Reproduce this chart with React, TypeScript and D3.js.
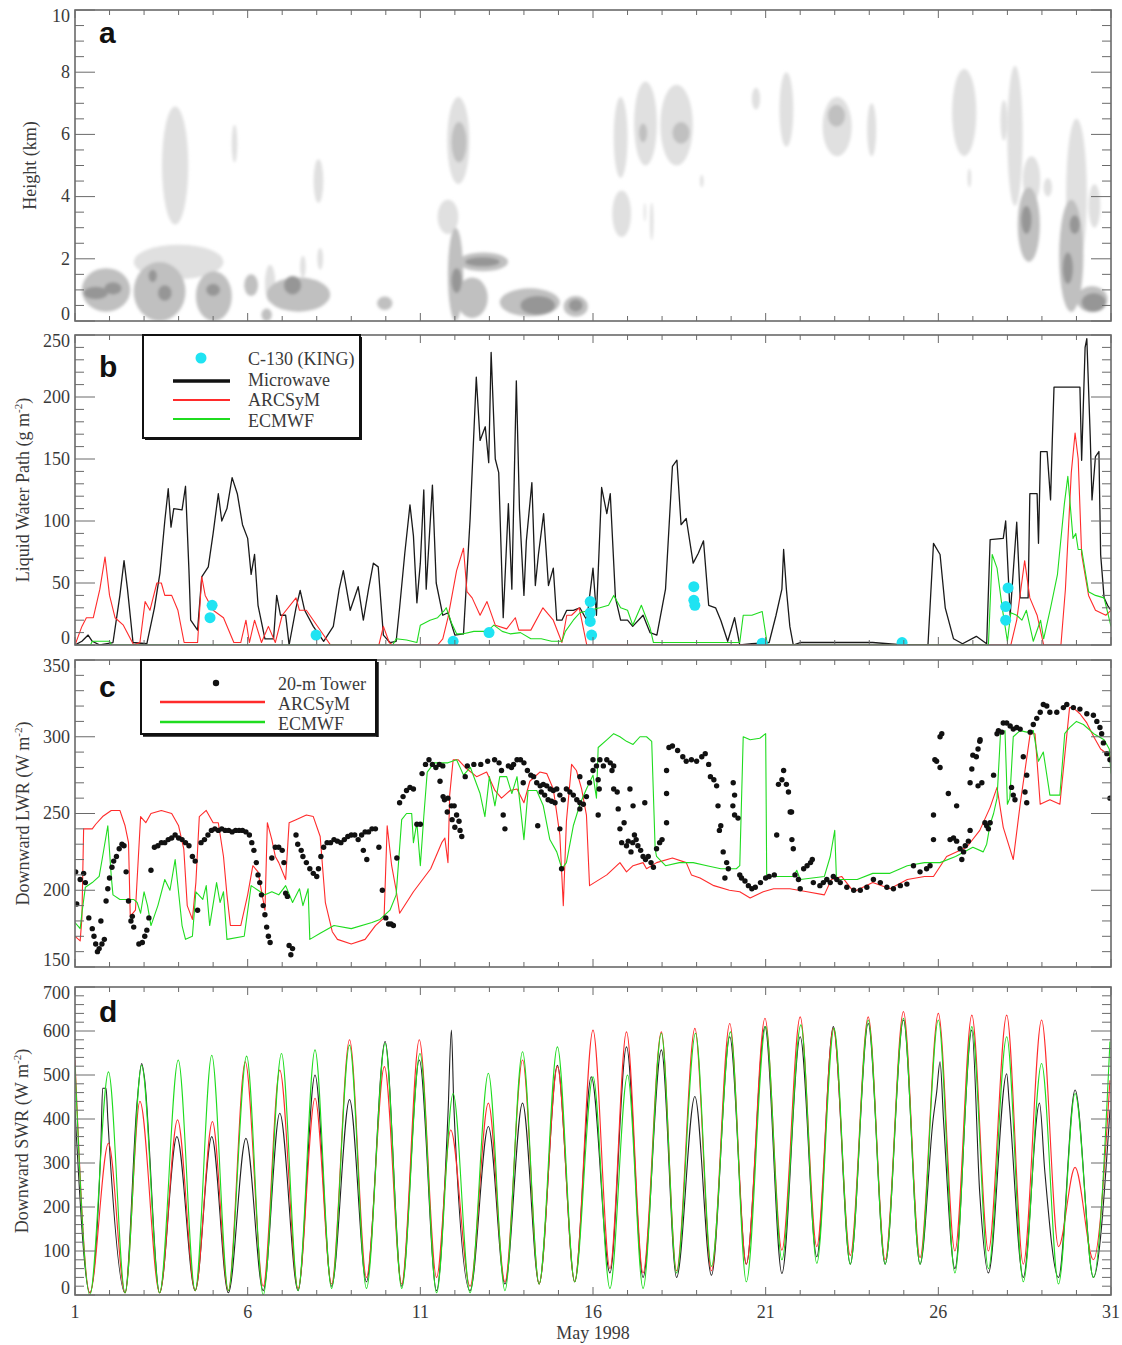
import React, { useRef, useEffect } from "react";
import * as d3 from "d3";

// ---------- panel a: cloud cells [day, km, half width (days), half height (km), level]
const cloudCells = [
  [3.9, 5.0, 0.38, 1.9, 1], [5.62, 5.7, 0.08, 0.6, 1], [8.05, 4.5, 0.14, 0.7, 1],
  [4.0, 1.9, 1.3, 0.55, 1], [6.65, 1.2, 0.15, 0.6, 1], [7.6, 1.75, 0.08, 0.35, 1],
  [8.1, 2.0, 0.08, 0.35, 1], [12.1, 5.8, 0.32, 1.4, 1], [11.8, 3.35, 0.3, 0.55, 1],
  [16.8, 5.9, 0.2, 1.3, 1], [16.83, 3.45, 0.27, 0.75, 1], [17.52, 6.35, 0.33, 1.35, 1],
  [18.42, 6.3, 0.47, 1.3, 1], [17.5, 3.5, 0.03, 0.3, 1], [17.7, 3.2, 0.05, 0.6, 1],
  [19.15, 4.5, 0.05, 0.2, 1], [20.72, 7.15, 0.12, 0.35, 1], [21.6, 6.8, 0.2, 1.2, 1],
  [23.07, 6.25, 0.42, 0.95, 1], [24.07, 6.15, 0.13, 0.85, 1], [26.75, 6.7, 0.35, 1.4, 1],
  [26.9, 4.6, 0.05, 0.3, 1], [27.9, 6.45, 0.1, 0.65, 1], [28.22, 5.95, 0.22, 2.25, 1],
  [28.7, 4.55, 0.25, 0.75, 1], [29.17, 4.3, 0.12, 0.3, 1], [30.0, 4.1, 0.3, 2.4, 1],
  [30.52, 3.7, 0.17, 0.7, 1],
  [1.9, 1.0, 0.7, 0.7, 2], [3.45, 0.95, 0.75, 0.95, 2], [5.02, 0.8, 0.52, 0.8, 2],
  [6.1, 1.15, 0.2, 0.35, 2], [6.55, 0.2, 0.15, 0.2, 2], [7.47, 0.85, 0.92, 0.55, 2],
  [9.97, 0.57, 0.22, 0.22, 2], [12.02, 1.5, 0.22, 1.5, 2], [12.82, 1.9, 0.72, 0.3, 2],
  [12.5, 0.75, 0.45, 0.65, 2], [14.17, 0.6, 0.87, 0.45, 2], [15.5, 0.47, 0.35, 0.33, 2],
  [28.62, 3.1, 0.32, 1.2, 2], [29.85, 2.1, 0.35, 1.8, 2], [30.45, 0.7, 0.45, 0.42, 2],
  [12.12, 5.75, 0.22, 0.65, 2], [17.45, 6.05, 0.12, 0.3, 2], [18.55, 6.05, 0.25, 0.35, 2],
  [23.05, 6.6, 0.25, 0.35, 2],
  [1.6, 0.9, 0.35, 0.2, 3], [2.1, 1.05, 0.25, 0.2, 3], [3.25, 1.45, 0.12, 0.2, 3],
  [3.6, 0.9, 0.2, 0.25, 3], [5.0, 1.0, 0.2, 0.2, 3], [7.3, 1.15, 0.25, 0.3, 3],
  [12.05, 1.3, 0.15, 0.4, 3], [12.8, 1.9, 0.5, 0.15, 3], [14.4, 0.5, 0.5, 0.3, 3],
  [15.5, 0.5, 0.2, 0.2, 3], [28.55, 3.25, 0.15, 0.45, 3], [29.95, 3.1, 0.15, 0.3, 3],
  [29.75, 1.7, 0.15, 0.5, 3], [30.5, 0.6, 0.35, 0.3, 3],
];

// ---------- panel b: liquid water path [day, g m-2]
const lwpMicrowave = [
  [1.0,0],[1.2,3],[1.38,8],[1.5,3],[1.72,0],[2.1,2],[2.3,40],[2.42,68],[2.52,45],[2.68,2],[3.08,1],[3.3,30],[3.46,58],[3.6,100],[3.7,126],[3.78,95],[3.86,110],[4.1,109],[4.2,128],[4.3,60],[4.35,20],[4.55,12],[4.67,55],[4.86,63],[5.0,90],[5.15,122],[5.25,100],[5.4,110],[5.55,135],[5.7,122],[5.85,97],[6.0,86],[6.1,57],[6.2,73],[6.3,32],[6.5,5],[6.75,5],[6.84,40],[6.95,24],[7.1,24],[7.2,0],[7.4,30],[7.52,44],[7.65,28],[7.9,15],[8.2,3],[8.48,15],[8.65,45],[8.77,60],[8.97,28],[9.2,47],[9.35,20],[9.5,45],[9.64,66],[9.78,63],[9.93,8],[10.12,2],[10.3,3],[10.4,30],[10.55,74],[10.7,113],[10.8,88],[10.9,34],[11.0,66],[11.1,125],[11.17,45],[11.35,129],[11.46,50],[11.65,24],[11.8,26],[12.0,8],[12.25,9],[12.44,101],[12.62,216],[12.73,165],[12.88,176],[12.98,147],[13.05,236],[13.17,150],[13.27,139],[13.4,22],[13.55,114],[13.65,45],[13.78,213],[13.87,110],[14.0,40],[14.07,84],[14.23,131],[14.33,48],[14.42,73],[14.57,106],[14.71,48],[14.85,62],[14.95,20],[15.1,20],[15.24,28],[15.43,28],[15.62,30],[15.82,20],[16.0,62],[16.1,24],[16.25,127],[16.4,106],[16.5,122],[16.65,38],[16.8,20],[17.0,20],[17.15,15],[17.45,24],[17.65,10],[17.85,8],[18.1,45],[18.3,144],[18.43,149],[18.55,97],[18.7,102],[18.9,66],[19.05,74],[19.2,84],[19.35,32],[19.55,30],[19.7,20],[19.9,3],[20.1,22],[20.25,0],[20.6,1],[21.1,2],[21.3,24],[21.47,45],[21.52,77],[21.6,45],[21.7,15],[21.8,0],[22.0,2],[23.0,2],[24.1,2],[25.0,0],[25.7,0],[25.86,82],[26.05,73],[26.2,30],[26.44,5],[26.7,1],[27.1,7],[27.4,1],[27.5,85],[27.88,86],[27.95,100],[28.08,24],[28.27,99],[28.37,38],[28.6,38],[28.65,122],[28.86,122],[28.9,82],[28.96,156],[29.15,156],[29.25,117],[29.3,165],[29.35,208],[30.1,208],[30.15,149],[30.25,240],[30.3,247],[30.4,167],[30.45,117],[30.55,152],[30.65,156],[30.7,73],[30.8,38],[30.9,32],[31.0,28],
];
const lwpArcsym = [
  [1.0,0],[1.2,15],[1.33,22],[1.53,22],[1.72,45],[1.87,71],[2.0,40],[2.16,22],[2.4,16],[2.7,0],[2.88,2],[3.03,35],[3.17,28],[3.37,50],[3.5,50],[3.6,40],[3.8,40],[3.98,28],[4.16,2],[4.55,2],[4.67,55],[4.77,40],[5.0,28],[5.3,22],[5.6,2],[5.8,2],[5.95,20],[6.05,2],[6.2,20],[6.4,2],[6.6,15],[6.8,2],[7.0,24],[7.4,38],[7.5,28],[7.7,28],[7.9,20],[8.4,0],[9.8,0],[9.93,15],[10.1,2],[10.2,0],[11.5,0],[11.65,5],[11.8,22],[12.05,60],[12.25,78],[12.35,43],[12.5,38],[12.73,24],[12.93,35],[13.17,16],[13.5,13],[13.75,22],[13.85,12],[14.2,12],[14.55,30],[14.85,20],[15.1,2],[15.24,24],[15.38,24],[15.6,30],[15.82,0],[28.1,0],[28.27,20],[28.5,68],[28.65,38],[28.86,24],[29.05,0],[29.55,0],[29.68,45],[29.85,139],[29.96,171],[30.05,150],[30.15,73],[30.35,40],[30.55,28],[30.85,24],[31.0,28],
];
const lwpEcmwf = [
  [1.0,0],[1.45,0],[1.5,3],[2.0,3],[2.05,0],[10.2,0],[10.3,5],[10.6,4],[10.9,2],[11.0,16],[11.28,20],[11.5,22],[11.7,28],[11.75,30],[11.9,18],[12.05,9],[12.25,9],[12.55,11],[12.93,11],[13.13,16],[13.37,11],[13.6,9],[13.9,10],[14.2,5],[14.5,5],[14.8,3],[15.1,3],[15.2,11],[15.43,20],[15.62,26],[15.9,28],[16.2,30],[16.45,32],[16.6,40],[16.8,30],[17.0,28],[17.15,16],[17.4,32],[17.65,14],[17.75,2],[20.25,2],[20.35,24],[20.6,24],[20.9,27],[21.05,0],[27.45,0],[27.56,73],[27.7,62],[27.85,30],[28.0,3],[28.1,26],[28.27,24],[28.42,20],[28.55,28],[28.75,3],[28.96,20],[29.05,5],[29.25,30],[29.45,57],[29.65,114],[29.75,136],[29.9,86],[29.98,90],[30.05,77],[30.15,77],[30.35,43],[30.55,40],[30.8,38],[31.0,15],
];
const c130King = [
  [4.97,32],[4.91,22],[7.98,8],[11.95,3],[12.99,10],[15.92,35],[15.92,26],[15.92,19],[15.96,8],
  [18.92,47],[18.92,36],[18.95,32],[20.9,1.5],[24.95,2],[28.02,46],[27.95,31],[27.95,20],
];

// ---------- panel c: downward longwave [day, W m-2]
const lwrArcsym = [
  [1.0,170],[1.15,167],[1.2,182],[1.25,240],[1.5,240],[1.6,243],[1.8,248],[2.05,252],[2.3,252],[2.45,242],[2.55,231],[2.6,183],[2.75,187],[2.9,248],[3.05,244],[3.2,250],[3.5,252],[3.8,250],[4.0,242],[4.15,227],[4.25,190],[4.4,181],[4.5,205],[4.6,248],[4.8,252],[5.0,244],[5.15,244],[5.3,222],[5.4,197],[5.5,177],[5.8,177],[6.0,197],[6.15,216],[6.3,212],[6.5,187],[6.57,244],[6.7,233],[6.8,222],[6.9,218],[7.1,207],[7.2,244],[7.4,246],[7.7,249],[7.9,248],[8.1,235],[8.25,192],[8.45,173],[8.6,168],[9.0,165],[9.4,168],[9.7,177],[9.95,182],[10.04,242],[10.17,216],[10.3,200],[10.4,185],[10.8,199],[11.3,214],[11.62,231],[11.71,234],[11.8,218],[11.85,262],[11.95,285],[12.1,285],[12.3,280],[12.63,274],[12.92,277],[13.16,265],[13.35,260],[13.6,265],[13.8,266],[14.0,257],[14.17,271],[14.46,277],[14.66,276],[14.85,266],[15.04,236],[15.14,190],[15.23,245],[15.38,282],[15.52,278],[15.67,266],[15.81,249],[15.9,203],[16.4,210],[16.78,218],[16.97,212],[17.16,216],[17.45,218],[17.55,214],[17.84,218],[18.3,221],[18.7,218],[18.85,210],[19.1,208],[19.5,203],[19.95,200],[20.25,199],[20.55,195],[20.93,199],[21.23,201],[21.7,201],[22.2,199],[22.7,197],[22.9,207],[23.2,209],[23.55,199],[24.1,205],[24.6,201],[25.1,207],[25.6,209],[25.86,209],[26.24,222],[26.82,228],[27.2,239],[27.5,254],[27.7,267],[27.88,241],[28.17,220],[28.37,256],[28.66,302],[28.8,302],[28.95,256],[29.04,257],[29.23,259],[29.52,256],[29.8,319],[29.9,319],[30.1,315],[30.3,309],[30.5,300],[30.7,292],[31.0,287],
];
const lwrEcmwf = [
  [1.0,179],[1.15,175],[1.2,185],[1.3,202],[1.5,205],[1.7,209],[1.8,222],[1.95,242],[2.05,209],[2.1,197],[2.3,194],[2.7,194],[2.8,192],[2.9,185],[3.0,199],[3.1,190],[3.2,177],[3.4,190],[3.6,207],[3.75,200],[3.9,220],[4.1,177],[4.2,168],[4.4,170],[4.5,199],[4.7,194],[4.8,203],[4.9,177],[5.1,205],[5.2,192],[5.3,199],[5.4,168],[5.9,170],[6.1,203],[6.3,200],[6.5,197],[6.7,199],[6.9,197],[7.1,203],[7.3,192],[7.5,201],[7.6,190],[7.75,201],[7.8,168],[8.1,172],[8.5,177],[9.0,175],[9.6,179],[9.83,181],[10.12,187],[10.3,197],[10.46,246],[10.6,250],[10.75,250],[10.8,231],[10.9,244],[11.0,216],[11.1,248],[11.2,277],[11.4,283],[11.8,283],[12.05,285],[12.25,275],[12.45,280],[12.73,263],[12.87,248],[13.0,274],[13.16,255],[13.3,274],[13.5,274],[13.65,263],[13.8,274],[14.0,233],[14.12,265],[14.37,265],[14.56,255],[14.75,233],[14.95,225],[15.1,214],[15.23,218],[15.43,242],[15.62,256],[15.81,266],[16.0,275],[16.1,260],[16.15,293],[16.4,298],[16.6,302],[16.78,300],[16.97,297],[17.16,295],[17.36,300],[17.55,300],[17.7,297],[17.8,227],[17.84,222],[18.1,216],[18.5,218],[18.9,218],[19.3,216],[19.7,214],[20.15,214],[20.25,216],[20.35,300],[20.55,298],[20.83,299],[21.0,302],[21.03,209],[21.8,209],[21.9,213],[22.0,207],[22.7,209],[22.87,222],[23.0,239],[23.05,207],[23.65,207],[24.1,211],[24.6,211],[25.1,216],[25.6,218],[26.05,218],[26.5,222],[27.0,228],[27.3,225],[27.4,230],[27.5,243],[27.6,250],[27.7,260],[27.8,302],[27.93,304],[28.0,256],[28.07,260],[28.17,300],[28.37,304],[28.56,303],[28.75,304],[28.9,284],[29.04,290],[29.23,262],[29.52,262],[29.66,302],[29.8,306],[30.0,310],[30.2,308],[30.5,302],[30.8,298],[30.95,292],[31.0,276],
];
const lwrTower = [
  [1.02,212],[1.05,191],[1.15,207],[1.25,211],[1.3,205],[1.4,182],[1.5,175],[1.55,170],[1.6,165],[1.65,160],[1.7,162],[1.78,165],[1.85,168],[1.75,180],[1.9,193],[1.95,201],[2.0,208],[2.07,215],[2.12,219],[2.2,222],[2.28,227],[2.36,230],[2.42,229],[2.48,212],[2.55,193],[2.62,180],[2.66,183],[2.7,176],[2.85,165],[2.95,166],[3.02,170],[3.08,174],[3.14,182],[3.2,213],[3.3,228],[3.4,229],[3.5,231],[3.6,231],[3.7,233],[3.8,234],[3.9,236],[4.0,234],[4.1,233],[4.2,231],[4.3,229],[4.4,222],[4.48,219],[4.55,187],[4.65,231],[4.75,233],[4.85,236],[4.95,239],[5.05,240],[5.15,239],[5.25,240],[5.35,239],[5.45,239],[5.55,238],[5.65,239],[5.75,239],[5.85,239],[5.95,238],[6.05,236],[6.12,231],[6.18,226],[6.25,218],[6.3,210],[6.35,205],[6.4,197],[6.45,190],[6.5,184],[6.55,176],[6.6,170],[6.65,166],[6.7,221],[6.8,228],[6.9,228],[7.0,226],[7.05,218],[7.1,198],[7.15,196],[7.2,164],[7.25,158],[7.3,162],[7.4,236],[7.45,230],[7.55,226],[7.6,222],[7.7,218],[7.8,214],[7.9,211],[8.0,209],[8.05,214],[8.12,222],[8.2,228],[8.3,231],[8.4,231],[8.5,233],[8.6,232],[8.7,231],[8.8,233],[8.9,235],[9.0,236],[9.1,236],[9.2,233],[9.3,236],[9.4,238],[9.5,238],[9.6,240],[9.7,240],[9.35,226],[9.45,220],[9.8,228],[9.9,200],[10.0,182],[10.08,178],[10.15,178],[10.22,177],[10.32,221],[10.4,257],[10.5,261],[10.6,265],[10.7,267],[10.8,266],[10.9,243],[11.0,243],[11.05,276],[11.15,282],[11.25,285],[11.35,282],[11.45,280],[11.55,282],[11.65,281],[11.57,271],[11.66,261],[11.7,259],[11.8,260],[11.9,255],[11.98,255],[12.05,249],[12.12,245],[12.2,235],[11.78,251],[11.92,246],[12.0,241],[12.15,239],[12.3,274],[12.36,281],[12.55,282],[12.75,282],[12.95,284],[13.15,285],[13.28,283],[13.35,278],[13.4,249],[13.45,240],[13.55,281],[13.64,280],[13.7,282],[13.8,285],[13.9,285],[14.0,283],[14.1,278],[14.2,275],[14.28,274],[13.98,270],[14.37,270],[14.47,268],[14.56,269],[14.66,268],[14.76,266],[14.85,265],[14.95,266],[14.4,242],[14.5,264],[14.6,262],[14.7,259],[14.8,258],[14.9,257],[15.04,262],[15.14,259],[15.23,266],[15.33,264],[15.43,262],[15.53,259],[15.62,257],[15.04,240],[15.09,214],[15.62,253],[15.72,256],[15.81,261],[15.9,270],[16.0,278],[16.1,281],[16.2,285],[16.3,281],[16.4,285],[16.5,283],[16.6,281],[16.55,278],[16.0,285],[15.62,274],[16.15,272],[16.18,266],[16.15,249],[16.6,266],[16.7,264],[16.73,253],[16.78,240],[16.83,231],[16.9,244],[16.97,229],[17.02,232],[17.1,225],[17.15,231],[17.2,236],[17.25,233],[17.3,229],[17.38,226],[17.45,222],[17.52,220],[17.6,222],[17.68,218],[17.75,215],[17.07,266],[17.16,255],[17.5,257],[17.84,227],[17.93,231],[18.0,233],[18.13,278],[18.13,263],[18.13,244],[18.2,293],[18.3,294],[18.45,291],[18.6,287],[18.7,284],[18.85,285],[19.0,284],[19.15,287],[19.25,289],[19.35,282],[19.4,274],[19.5,272],[19.58,268],[19.62,255],[19.66,239],[19.7,242],[19.77,225],[19.87,218],[19.92,214],[19.82,208],[20.06,270],[20.1,262],[20.1,249],[20.2,247],[20.05,255],[20.25,210],[20.3,208],[20.4,206],[20.5,203],[20.6,201],[20.7,202],[20.85,205],[21.0,208],[21.1,209],[21.25,210],[21.32,236],[21.37,269],[21.47,272],[21.52,278],[21.6,269],[21.66,264],[21.71,251],[21.75,251],[21.76,233],[21.8,227],[21.85,210],[21.95,207],[22.0,201],[22.1,214],[22.2,216],[22.3,218],[22.35,220],[22.38,205],[22.57,203],[22.67,205],[22.77,207],[22.87,205],[22.96,209],[23.06,207],[23.16,205],[23.35,202],[23.55,200],[23.74,200],[23.93,202],[24.12,207],[24.32,205],[24.51,202],[24.7,201],[24.9,203],[25.09,204],[25.28,216],[25.47,212],[25.66,214],[25.76,216],[25.86,249],[25.86,233],[25.9,285],[25.95,284],[26.05,280],[26.1,302],[26.05,300],[26.29,263],[26.34,233],[26.44,234],[26.53,232],[26.63,227],[26.68,220],[26.73,225],[26.78,229],[26.87,232],[26.92,239],[26.53,255],[26.92,270],[26.97,279],[27.0,288],[27.1,287],[27.15,292],[27.2,297],[27.15,268],[27.21,298],[27.26,270],[27.35,244],[27.4,242],[27.45,240],[27.5,244],[27.6,275],[27.7,302],[27.74,304],[27.84,303],[27.88,309],[27.98,309],[28.08,307],[28.17,305],[28.27,306],[28.37,305],[28.12,267],[28.17,262],[28.22,259],[28.46,287],[28.56,275],[28.51,264],[28.56,257],[28.66,303],[28.75,308],[28.85,312],[28.95,316],[29.04,321],[29.14,320],[29.23,316],[29.43,316],[29.62,319],[29.72,321],[29.91,319],[30.1,318],[30.3,315],[30.49,314],[30.59,310],[30.68,306],[30.73,302],[30.78,296],[30.88,289],[30.97,285],[30.97,260],
];

// ---------- panel d: downward shortwave [day, W m-2]
const swrTower = [
  [1.0,420],[1.43,5],[1.75,340],[1.8,470],[1.9,470],[1.95,400],[2.45,5],[2.8,440],[2.93,526],[3.0,500],[3.45,5],[3.95,360],[4.48,10],[4.96,360],[5.44,5],[5.95,356],[6.45,10],[6.93,413],[7.46,10],[7.95,500],[8.43,20],[8.95,444],[9.44,30],[9.98,576],[10.46,20],[10.97,534],[11.47,10],[11.8,410],[11.9,602],[11.97,430],[12.44,10],[12.97,383],[13.45,25],[13.96,436],[14.44,25],[14.97,522],[15.47,30],[15.95,496],[16.49,50],[16.97,564],[17.45,40],[17.98,557],[18.42,40],[18.95,451],[19.43,45],[19.96,587],[20.44,70],[20.98,610],[21.47,49],[22.0,587],[22.48,87],[22.96,610],[23.45,70],[23.97,617],[24.46,70],[24.99,625],[25.47,70],[25.85,400],[25.95,460],[26.05,530],[26.15,398],[26.48,60],[26.97,602],[27.2,230],[27.45,50],[27.98,503],[28.05,440],[28.46,40],[28.93,436],[29.08,284],[29.48,40],[29.96,466],[30.49,40],[30.97,420],
];
const swrArcsym = [
  [1.0,534],[1.43,5],[1.97,345],[2.45,5],[2.88,440],[3.45,5],[3.97,398],[4.48,10],[4.98,394],[5.44,10],[5.93,530],[6.45,20],[6.93,511],[7.46,15],[7.95,447],[8.43,25],[8.95,580],[9.44,40],[9.96,519],[10.46,25],[10.97,580],[11.47,40],[11.88,375],[12.44,20],[12.97,436],[13.45,30],[13.96,534],[14.44,25],[14.97,519],[15.47,30],[16.0,602],[16.49,60],[16.97,598],[17.45,50],[17.98,598],[18.42,55],[18.95,606],[19.43,55],[19.96,617],[20.44,70],[20.98,629],[21.47,102],[22.0,632],[22.48,110],[22.96,606],[23.45,90],[23.97,632],[24.46,80],[24.99,644],[25.47,85],[26.0,640],[26.48,100],[26.97,636],[27.45,100],[27.98,636],[28.46,70],[28.99,625],[29.48,110],[29.96,290],[30.49,80],[30.97,488],
];
const swrEcmwf = [
  [1.0,521],[1.43,0],[1.97,507],[2.45,5],[2.93,522],[3.45,5],[3.99,534],[4.48,10],[4.96,545],[5.44,10],[5.97,543],[6.45,0],[6.98,549],[7.46,10],[7.95,557],[8.43,15],[8.95,568],[9.44,15],[9.98,572],[10.46,15],[10.99,549],[11.47,5],[11.95,458],[12.44,5],[12.97,504],[13.45,10],[13.96,553],[14.44,25],[14.97,564],[15.47,30],[16.0,496],[16.49,15],[17.0,500],[17.45,15],[17.98,595],[18.42,50],[18.97,595],[19.43,65],[19.98,598],[20.44,30],[21.0,610],[21.47,80],[22.02,614],[22.48,72],[22.98,606],[23.45,70],[23.97,625],[24.46,70],[24.99,629],[25.47,70],[26.0,625],[26.48,50],[26.97,610],[27.45,60],[27.98,587],[28.46,30],[28.99,526],[29.48,25],[29.96,458],[30.49,40],[30.97,576],
];

// ---------- axes
const dayTicks = [1, 6, 11, 16, 21, 26, 31];
const heightTicks = [0, 2, 4, 6, 8, 10];
const lwpTicks = [0, 50, 100, 150, 200, 250];
const lwrTicks = [150, 200, 250, 300, 350];
const swrTicks = [0, 100, 200, 300, 400, 500, 600, 700];

const App = () => {
  const svgRef = useRef<SVGSVGElement | null>(null);

  useEffect(() => {
    const svg = d3.select(svgRef.current);
    svg.selectAll("*").remove();

    const left = 75;
    const right = 1111;
    const serif = "'Liberation Serif', 'Times New Roman', serif";
    const sans = "'Liberation Sans', Arial, sans-serif";
    const frameColor = "#6a6a6a";
    const textColor = "#3a3a3a";
    const red = "#ff2b2b";
    const green = "#1fdc1f";
    const cyan = "#1fe3f2";

    const x = d3.scaleLinear().domain([1, 31]).range([left, right]);

    const panels = [
      { id: "a", top: 10, bottom: 321, domain: [0, 10], ticks: heightTicks, minor: 0.5, letterY: 43, title: "Height (km)", sup: false, titleX: 36 },
      { id: "b", top: 335, bottom: 645, domain: [0, 250], ticks: lwpTicks, minor: 10, letterY: 377, title: "Liquid Water Path (g m", sup: true, titleX: 29 },
      { id: "c", top: 660, bottom: 967, domain: [150, 350], ticks: lwrTicks, minor: 10, letterY: 697, title: "Downward LWR (W m", sup: true, titleX: 29 },
      { id: "d", top: 987, bottom: 1295, domain: [0, 700], ticks: swrTicks, minor: 20, letterY: 1022, title: "Downward SWR (W m", sup: true, titleX: 28 },
    ];

    const defs = svg.append("defs");
    defs
      .append("filter")
      .attr("id", "soft")
      .attr("x", "-10%")
      .attr("y", "-10%")
      .attr("width", "120%")
      .attr("height", "120%")
      .append("feGaussianBlur")
      .attr("stdDeviation", 1.8);

    const ys: Record<string, d3.ScaleLinear<number, number>> = {};
    panels.forEach((p) => {
      ys[p.id] = d3.scaleLinear().domain(p.domain).range([p.bottom, p.top]);
      defs
        .append("clipPath")
        .attr("id", `clip-${p.id}`)
        .append("rect")
        .attr("x", left)
        .attr("y", p.top)
        .attr("width", right - left)
        .attr("height", p.bottom - p.top);
    });

    const plotLine = (g, data, y, color, width, curve = d3.curveLinear) => {
      const line = d3
        .line()
        .x((d) => x(d[0]))
        .y((d) => y(d[1]))
        .curve(curve);
      g.append("path")
        .attr("d", line(data))
        .attr("fill", "none")
        .attr("stroke", color)
        .attr("stroke-width", width)
        .attr("stroke-linejoin", "round");
    };

    // panel a - cloud contours
    const ya = ys.a;
    const ga = svg.append("g").attr("clip-path", "url(#clip-a)").attr("filter", "url(#soft)");
    const shades = { 1: "#e0e0e0", 2: "#c0c0c0", 3: "#969696" };
    [1, 2, 3].forEach((lvl) => {
      ga.selectAll(`ellipse.l${lvl}`)
        .data(cloudCells.filter((c) => c[4] === lvl))
        .join("ellipse")
        .attr("cx", (c) => x(c[0]))
        .attr("cy", (c) => ya(c[1]))
        .attr("rx", (c) => x(1 + c[2]) - x(1))
        .attr("ry", (c) => ya(0) - ya(c[3]))
        .attr("fill", shades[lvl]);
    });

    // panel b - liquid water path
    const yb = ys.b;
    const gb = svg.append("g").attr("clip-path", "url(#clip-b)");
    plotLine(gb, lwpMicrowave, yb, "#1a1a1a", 1.3);
    plotLine(gb, lwpArcsym, yb, red, 1.1);
    plotLine(gb, lwpEcmwf, yb, green, 1.1);
    gb.selectAll("circle")
      .data(c130King)
      .join("circle")
      .attr("cx", (d) => x(d[0]))
      .attr("cy", (d) => yb(d[1]))
      .attr("r", 5.5)
      .attr("fill", cyan);

    // panel c - longwave
    const yc = ys.c;
    const gc = svg.append("g").attr("clip-path", "url(#clip-c)");
    plotLine(gc, lwrArcsym, yc, red, 1.1);
    plotLine(gc, lwrEcmwf, yc, green, 1.1);
    gc.selectAll("circle")
      .data(lwrTower)
      .join("circle")
      .attr("cx", (d) => x(d[0]))
      .attr("cy", (d) => yc(d[1]))
      .attr("r", 2.7)
      .attr("fill", "#111");

    // panel d - shortwave
    const yd = ys.d;
    const gd = svg.append("g").attr("clip-path", "url(#clip-d)");
    plotLine(gd, swrTower, yd, "#222", 1.1, d3.curveMonotoneX);
    plotLine(gd, swrArcsym, yd, red, 1.1, d3.curveMonotoneX);
    plotLine(gd, swrEcmwf, yd, green, 1.1, d3.curveMonotoneX);

    // frames, ticks, labels
    panels.forEach((p) => {
      const y = ys[p.id];
      const g = svg.append("g").attr("stroke", frameColor).attr("stroke-width", 1);
      g.append("rect")
        .attr("x", left)
        .attr("y", p.top)
        .attr("width", right - left)
        .attr("height", p.bottom - p.top)
        .attr("fill", "none")
        .attr("stroke-width", 1.6);

      d3.range(1, 32).forEach((d) => {
        const len = (d - 1) % 5 === 0 ? 8 : 5;
        g.append("line").attr("x1", x(d)).attr("x2", x(d)).attr("y1", p.bottom).attr("y2", p.bottom - len);
        g.append("line").attr("x1", x(d)).attr("x2", x(d)).attr("y1", p.top).attr("y2", p.top + len);
      });

      const [lo, hi] = p.domain;
      const n = Math.round((hi - lo) / p.minor);
      d3.range(n + 1).forEach((i) => {
        const v = lo + i * p.minor;
        const major = p.ticks.some((t) => Math.abs(t - v) < 1e-6);
        const len = major ? 20 : 9;
        g.append("line").attr("x1", left).attr("x2", left + len).attr("y1", y(v)).attr("y2", y(v));
        g.append("line").attr("x1", right).attr("x2", right - len).attr("y1", y(v)).attr("y2", y(v));
      });

      // end labels sit just inside the frame so neighbouring panels don't collide
      svg.append("g")
        .selectAll("text")
        .data(p.ticks)
        .join("text")
        .attr("x", 70)
        .attr("y", (t) => Math.min(p.bottom - 7, Math.max(p.top + 6, y(t))))
        .attr("dy", "0.32em")
        .attr("text-anchor", "end")
        .attr("font-family", serif)
        .attr("font-size", 18)
        .attr("fill", textColor)
        .text((t) => t);

      const title = svg
        .append("text")
        .attr("transform", `translate(${p.titleX},${(p.top + p.bottom) / 2}) rotate(-90)`)
        .attr("text-anchor", "middle")
        .attr("font-family", serif)
        .attr("font-size", 18)
        .attr("fill", textColor);
      title.append("tspan").text(p.title);
      if (p.sup) {
        title.append("tspan").attr("dy", -7).attr("font-size", 11).text("-2");
        title.append("tspan").attr("dy", 7).text(")");
      }

      svg.append("text")
        .attr("x", 99)
        .attr("y", p.letterY)
        .attr("font-family", sans)
        .attr("font-weight", "bold")
        .attr("font-size", 30)
        .attr("fill", "#111")
        .text(p.id);
    });

    // x labels
    svg.append("g")
      .selectAll("text")
      .data(dayTicks)
      .join("text")
      .attr("x", (d) => x(d))
      .attr("y", 1318)
      .attr("text-anchor", "middle")
      .attr("font-family", serif)
      .attr("font-size", 18)
      .attr("fill", textColor)
      .text((d) => d);
    svg.append("text")
      .attr("x", x(16))
      .attr("y", 1339)
      .attr("text-anchor", "middle")
      .attr("font-family", serif)
      .attr("font-size", 18)
      .attr("fill", textColor)
      .text("May 1998");

    // legend b
    const legB = svg.append("g");
    legB.append("rect").attr("x", 143).attr("y", 335).attr("width", 217).attr("height", 103).attr("fill", "#fff").attr("stroke", "#111").attr("stroke-width", 2);
    legB.append("line").attr("x1", 145).attr("x2", 362).attr("y1", 439).attr("y2", 439).attr("stroke", "#111").attr("stroke-width", 2);
    legB.append("line").attr("x1", 361).attr("x2", 361).attr("y1", 337).attr("y2", 440).attr("stroke", "#111").attr("stroke-width", 2);
    legB.append("circle").attr("cx", 201).attr("cy", 358).attr("r", 5.5).attr("fill", cyan);
    [
      { y: 381, color: "#111", w: 3.5 },
      { y: 400, color: red, w: 2.2 },
      { y: 419, color: green, w: 2.2 },
    ].forEach((s) => legB.append("line").attr("x1", 173).attr("x2", 230).attr("y1", s.y).attr("y2", s.y).attr("stroke", s.color).attr("stroke-width", s.w));
    ["C-130 (KING)", "Microwave", "ARCSyM", "ECMWF"].forEach((t, i) =>
      legB.append("text").attr("x", 248).attr("y", 365 + i * 20.5).attr("font-family", serif).attr("font-size", 18).attr("fill", textColor).text(t)
    );

    // legend c
    const legC = svg.append("g");
    legC.append("rect").attr("x", 141).attr("y", 660).attr("width", 235).attr("height", 74).attr("fill", "#fff").attr("stroke", "#111").attr("stroke-width", 2);
    legC.append("line").attr("x1", 143).attr("x2", 378).attr("y1", 735.5).attr("y2", 735.5).attr("stroke", "#111").attr("stroke-width", 2.5);
    legC.append("line").attr("x1", 377.5).attr("x2", 377.5).attr("y1", 662).attr("y2", 737).attr("stroke", "#111").attr("stroke-width", 2.5);
    legC.append("circle").attr("cx", 216).attr("cy", 683).attr("r", 3.2).attr("fill", "#111");
    [
      { y: 702, color: red },
      { y: 722, color: green },
    ].forEach((s) => legC.append("line").attr("x1", 160).attr("x2", 265).attr("y1", s.y).attr("y2", s.y).attr("stroke", s.color).attr("stroke-width", 2.5));
    ["20-m Tower", "ARCSyM", "ECMWF"].forEach((t, i) =>
      legC.append("text").attr("x", 278).attr("y", 690 + i * 20).attr("font-family", serif).attr("font-size", 18).attr("fill", textColor).text(t)
    );
  }, []);

  return (
    <svg
      ref={svgRef}
      width={1122}
      height={1345}
      style={{ position: "absolute", left: 0, top: 0, background: "#fff" }}
    />
  );
};

export default App;
